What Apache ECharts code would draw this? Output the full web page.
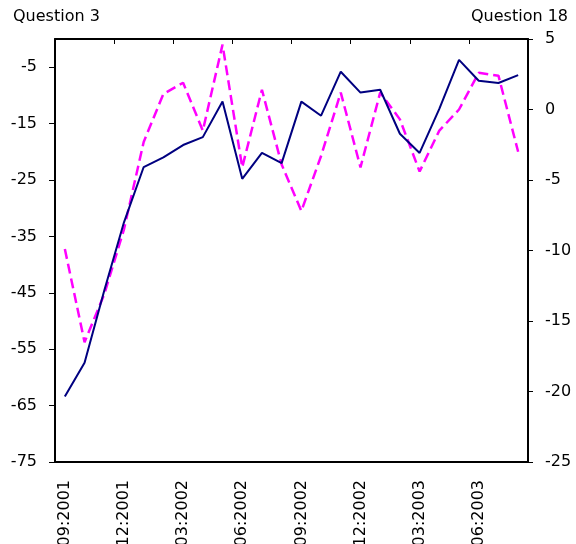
<!DOCTYPE html>
<html>
<head>
<meta charset="utf-8">
<script src="https://cdn.jsdelivr.net/npm/echarts@6/dist/echarts.min.js"></script>
<style>
  html, body { margin: 0; padding: 0; background: #fff; }
  #chart { width: 576px; height: 544px; }
</style>
</head>
<body>
<div id="chart"></div>
<script>
// Monthly survey balances, Sep 2001 - Aug 2003
const months = [
  '09:2001', '10:2001', '11:2001', '12:2001', '01:2002', '02:2002',
  '03:2002', '04:2002', '05:2002', '06:2002', '07:2002', '08:2002',
  '09:2002', '10:2002', '11:2002', '12:2002', '01:2003', '02:2003',
  '03:2003', '04:2003', '05:2003', '06:2003', '07:2003', '08:2003'
];

// Question 3 (left axis)
const question3 = [
  -63.4, -57.4, -44.6, -32.5, -22.7, -21.0, -18.8, -17.4, -11.1, -24.8, -20.2, -22.0,
  -11.1, -13.6, -5.8, -9.5, -9.0, -16.8, -20.2, -12.4, -3.7, -7.4, -7.8, -6.4
];

// Question 18 (right axis)
const question18 = [
  -9.9, -16.5, -13.1, -8.5, -2.3, 1.1, 1.9, -1.5, 4.6, -4.1, 1.4, -3.9,
  -7.2, -3.3, 1.2, -4.1, 1.2, -0.7, -4.4, -1.5, 0.0, 2.6, 2.4, -3.0
];

const leftTicks = [-75, -65, -55, -45, -35, -25, -15, -5];

const FONT = 'DejaVu Sans';
const axisLineStyle = { color: '#000', width: 2 };
const titleStyle = { fontFamily: FONT, fontSize: 16, fontWeight: 'normal', color: '#000' };

const chart = echarts.init(document.getElementById('chart'), null, { renderer: 'canvas' });

chart.setOption({
  animation: false,
  backgroundColor: '#fff',
  textStyle: { fontFamily: FONT },
  title: [
    { text: 'Question 3', left: 8, top: 4, textStyle: titleStyle },
    { text: 'Question 18', right: 3, top: 4, textStyle: titleStyle }
  ],
  grid: {
    left: 55, right: 48, top: 39, bottom: 82,
    containLabel: false,
    outerBoundsMode: 'none'
  },
  xAxis: [
    {
      type: 'category',
      data: months,
      position: 'bottom',
      boundaryGap: true,
      axisLine: { onZero: false, lineStyle: axisLineStyle },
      axisTick: { show: false },
      axisLabel: {
        interval: 2, rotate: 90, margin: 18, padding: [0, 0, 6, 0],
        fontFamily: FONT, fontSize: 16, color: '#000'
      },
      splitLine: { show: false }
    },
    {
      type: 'category',
      data: months,
      position: 'top',
      boundaryGap: true,
      axisLine: { onZero: false, lineStyle: axisLineStyle },
      axisTick: { show: true, inside: true, interval: 2, length: 5,
                  lineStyle: { color: '#000', width: 1 } },
      axisLabel: { show: false },
      splitLine: { show: false }
    }
  ],
  yAxis: [
    {
      type: 'value',
      position: 'left',
      min: -75, max: 0,
      axisLine: { show: true, lineStyle: axisLineStyle },
      axisTick: { show: true, length: 6, customValues: leftTicks,
                  lineStyle: { color: '#000', width: 1 } },
      axisLabel: { customValues: leftTicks, margin: 18, padding: [0, 0, 9, 0],
                   fontFamily: FONT, fontSize: 16, color: '#000' },
      splitLine: { show: false }
    },
    {
      type: 'value',
      position: 'right',
      min: -25, max: 5, interval: 5,
      axisLine: { show: true, lineStyle: axisLineStyle },
      axisTick: { show: true, length: 5, lineStyle: { color: '#000', width: 1 } },
      axisLabel: { margin: 17, padding: [0, 0, 10, 0],
                   fontFamily: FONT, fontSize: 16, color: '#000' },
      splitLine: { show: false }
    }
  ],
  series: [
    {
      name: 'Question 3',
      type: 'line',
      xAxisIndex: 0,
      yAxisIndex: 0,
      data: question3,
      symbol: 'none',
      lineStyle: { color: '#000080', width: 2 },
      z: 3
    },
    {
      name: 'Question 18',
      type: 'line',
      xAxisIndex: 0,
      yAxisIndex: 1,
      data: question18,
      symbol: 'none',
      lineStyle: { color: '#ff00ff', width: 2.5, type: [10, 5] },
      z: 2
    }
  ]
});
</script>
</body>
</html>
